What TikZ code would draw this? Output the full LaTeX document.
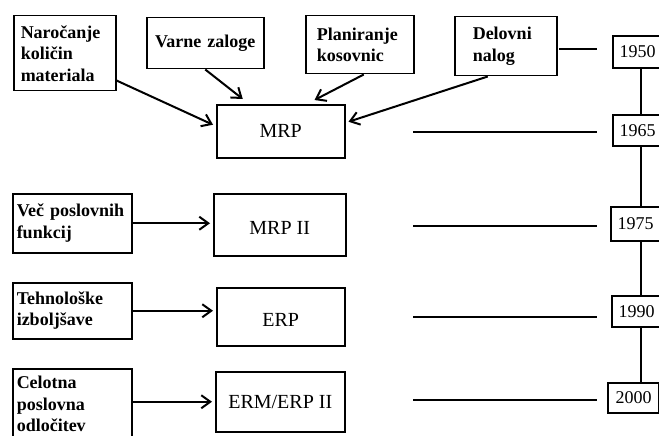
\documentclass[tikz,border=0pt]{standalone}
\usepackage{fontspec}
\setmainfont{Liberation Serif}
\usetikzlibrary{arrows.meta}
\begin{document}
\begin{tikzpicture}[x=1pt,y=-1pt,
  lbl/.style={draw, line width=1.5pt, anchor=north west, font=\bfseries\fontsize{18}{21.5}\selectfont, align=left, inner ysep=0pt},
  sys/.style={draw, line width=1.5pt, anchor=north west, font=\fontsize{20}{22}\selectfont, align=center, inner sep=0pt},
  yr/.style={draw, line width=1.5pt, font=\fontsize{18}{21}\selectfont, inner sep=0pt, minimum width=49pt},
  arr/.style={line width=2pt, -{Straight Barb[length=9pt,width=13pt,line width=2pt]}},
  ln/.style={line width=2.2pt}]
\useasboundingbox (0,0) rectangle (659,436);
\fill[white] (0,0) rectangle (659,436);
\clip (0,0) rectangle (659,436);

% input boxes
\node[lbl, text width=88pt, inner xsep=7pt, minimum height=75pt] (nar) at (13,15) {Naročanje\\količin\\materiala};
\node[lbl, align=center, text width=105pt, inner xsep=6pt, minimum height=51pt] (var) at (146,17) {Varne zaloge};
\node[lbl, text width=86pt, inner xsep=11pt, minimum height=58pt] (plan) at (305,15) {Planiranje\\kosovnic};
\node[lbl, text width=66pt, inner xsep=18pt, minimum height=59pt] (del) at (454,16) {Delovni\\nalog};
\node[lbl, text width=111pt, inner xsep=4pt, minimum height=59pt] (vec) at (12,193) {Več poslovnih\\funkcij};
\node[lbl, text width=111pt, inner xsep=4pt, minimum height=56pt] (teh) at (12,282) {Tehnološke\\izboljšave};
\node[lbl, text width=111pt, inner xsep=4pt, minimum height=71pt] (cel) at (12,368) {Celotna\\poslovna\\odločitev};

% system boxes
\node[sys, minimum width=128pt, minimum height=53pt, text height=12pt, text depth=0pt] (mrp) at (216,104) {MRP};
\node[sys, minimum width=132pt, minimum height=62pt, text height=19pt, text depth=0pt] (mrp2) at (213,193) {MRP II};
\node[sys, minimum width=128pt, minimum height=58pt, text height=20pt, text depth=0pt] (erp) at (216,287) {ERP};
\node[sys, minimum width=129pt, minimum height=60pt, text height=13pt, text depth=0pt] (erm) at (215,371) {ERM/ERP II};

% year boxes
\node[yr, minimum height=32pt] (y50) at (637.5,52) {1950};
\node[yr, minimum height=31pt] (y65) at (637.5,130.5) {1965};
\node[yr, minimum height=34pt] (y75) at (635.5,224) {1975};
\node[yr, minimum height=31pt] (y90) at (636.5,311.5) {1990};
\node[yr, minimum height=30pt, minimum width=51pt] (y00) at (633.5,398) {2000};

% arrows
\draw[arr] ([yshift=11pt]nar.south east) -- ([xshift=-3pt,yshift=6.5pt]mrp.west);
\draw[arr] (var.south) -- ([xshift=-38pt,yshift=5pt]mrp.north);
\draw[arr] ([xshift=4pt]plan.south) -- ([xshift=-31pt,yshift=4pt]mrp.north east);
\draw[arr] ([xshift=-18pt]del.south) -- ([xshift=3pt,yshift=9.5pt]mrp.east);
\draw[arr, shorten >=3pt] (vec.east) -- (vec.east -| mrp2.west);
\draw[arr, shorten >=3pt] (teh.east) -- (teh.east -| erp.west);
\draw[arr, shorten >=3pt] (cel.east |- erm.west) -- (erm.west);

% horizontal lines
\coordinate (l1a) at (559,49);  \coordinate (l1b) at (597,49);
\coordinate (l2a) at (413,132); \coordinate (l2b) at (597,132);
\coordinate (l3a) at (413,226); \coordinate (l3b) at (597,226);
\coordinate (l4a) at (413,317); \coordinate (l4b) at (597,317);
\coordinate (l5a) at (413,400); \coordinate (l5b) at (597,400);
\draw[ln] (l1a) -- (l1b);
\draw[ln] (l2a) -- (l2b);
\draw[ln] (l3a) -- (l3b);
\draw[ln] (l4a) -- (l4b);
\draw[ln] (l5a) -- (l5b);

% vertical timeline
\coordinate (vx) at (641,0);
\draw[ln] (y50.south -| vx) -- (y65.north -| vx);
\draw[ln] (y65.south -| vx) -- (y75.north -| vx);
\draw[ln] (y75.south -| vx) -- (y90.north -| vx);
\draw[ln] (y90.south -| vx) -- (y00.north -| vx);
\end{tikzpicture}
\end{document}
